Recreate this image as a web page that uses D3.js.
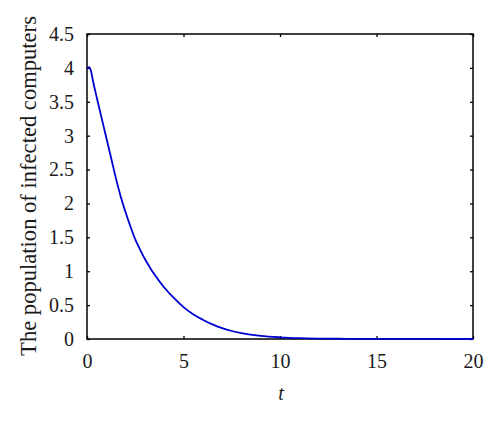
<!DOCTYPE html>
<html><head><meta charset="utf-8">
<script src="https://cdn.jsdelivr.net/npm/d3@7"></script>
<style>body{margin:0;background:#fff}svg{display:block}</style>
</head><body>
<script>
const tValues = [0, 0.1, 0.2, 0.33, 0.5, 0.75, 1.0, 1.25, 1.5, 1.75, 2.0, 2.25, 2.5, 2.75, 3.0, 3.25, 3.5, 4.0, 4.5, 5.0, 5.5, 6.0, 6.5, 7.0, 7.5, 8.0, 9.0, 10.0, 11, 12, 13, 14, 16, 20];
const infected = [4.00, 4.01, 3.96, 3.78, 3.57, 3.27, 2.97, 2.67, 2.37, 2.10, 1.87, 1.66, 1.47, 1.32, 1.18, 1.06, 0.95, 0.76, 0.605, 0.47, 0.365, 0.285, 0.215, 0.16, 0.118, 0.087, 0.046, 0.025, 0.013, 0.007, 0.004, 0.002, 0.001, 0.0];
const xTicks = [0, 5, 10, 15, 20];
const yTicks = [0, 0.5, 1, 1.5, 2, 2.5, 3, 3.5, 4, 4.5];
const yLabelText = "The population of infected computers";
const xLabelText = "t";

const W = 500, H = 423;
const m = {left: 87, right: 27, top: 34, bottom: 84};
const svg = d3.select("body").append("svg").attr("width", W).attr("height", H);
const x = d3.scaleLinear().domain([0, 20]).range([m.left, W - m.right]);
const y = d3.scaleLinear().domain([0, 4.5]).range([H - m.bottom, m.top]);
const font = "'Liberation Serif', 'DejaVu Serif', serif";
const textColor = "#1a1a1a";

const tickLen = 3;
function styleAxis(g) {
  g.selectAll("path.domain").remove();
  g.selectAll("line").attr("stroke", "#000").attr("stroke-width", 1.3);
  g.selectAll("text").attr("font-family", font).attr("font-size", 20).attr("fill", textColor);
}
svg.append("g").attr("transform", `translate(0,${y(0)})`)
  .call(d3.axisBottom(x).tickValues(xTicks).tickFormat(d3.format("d")).tickSizeInner(-tickLen).tickSizeOuter(0).tickPadding(15))
  .call(styleAxis);
svg.append("g").attr("transform", `translate(0,${y(4.5)})`)
  .call(d3.axisTop(x).tickValues(xTicks).tickFormat("").tickSizeInner(-tickLen).tickSizeOuter(0))
  .call(styleAxis);
svg.append("g").attr("transform", `translate(${x(0)},0)`)
  .call(d3.axisLeft(y).tickValues(yTicks).tickFormat(d => String(d)).tickSizeInner(-tickLen).tickSizeOuter(0).tickPadding(13))
  .call(styleAxis);
svg.append("g").attr("transform", `translate(${x(20)},0)`)
  .call(d3.axisRight(y).tickValues(yTicks).tickFormat("").tickSizeInner(-tickLen).tickSizeOuter(0))
  .call(styleAxis);

svg.append("rect").attr("x", x(0)).attr("y", y(4.5)).attr("width", x(20) - x(0)).attr("height", y(0) - y(4.5))
  .attr("fill", "none").attr("stroke", "#000").attr("stroke-width", 1.5);

const pts = tValues.map((t, i) => [t, infected[i]]);
svg.append("path").datum(pts)
  .attr("fill", "none").attr("stroke", "#0000d0").attr("stroke-width", 1.8)
  .attr("d", d3.line().x(d => x(d[0])).y(d => y(d[1])).curve(d3.curveMonotoneX));

svg.append("text").attr("x", (x(0) + x(20)) / 2 + 1).attr("y", 400)
  .attr("text-anchor", "middle").attr("font-family", font).attr("font-style", "italic").attr("font-size", 20)
  .attr("fill", textColor).text(xLabelText);

const yl = svg.append("text").attr("transform", `translate(36,186) rotate(-90)`)
  .attr("text-anchor", "middle").attr("font-family", font).attr("font-size", 18).attr("fill", textColor).text(yLabelText);
const len = yl.node().getComputedTextLength();
yl.attr("font-size", 18 * 340 / len);
</script>
</body></html>
